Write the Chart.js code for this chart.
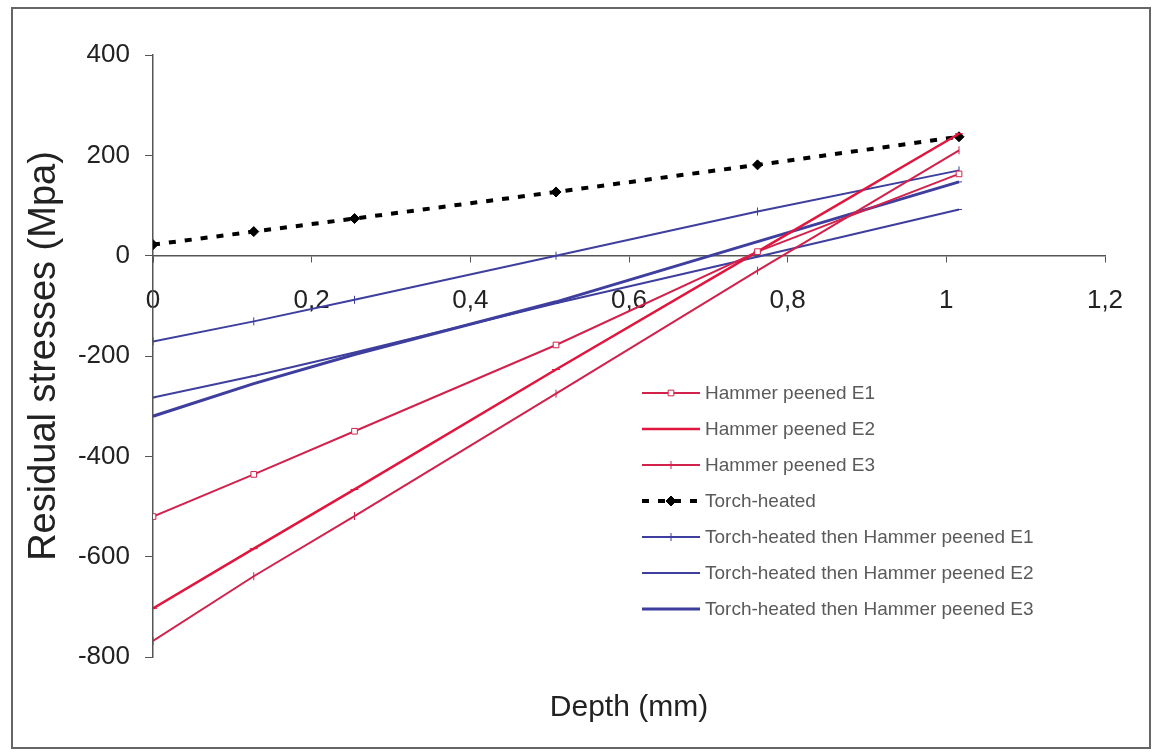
<!DOCTYPE html>
<html>
<head>
<meta charset="utf-8">
<title>Residual stresses vs depth</title>
<script src="https://cdn.jsdelivr.net/npm/chart.js@4.4.1/dist/chart.umd.min.js"></script>
<style>
  html, body { margin: 0; padding: 0; background: #fff; }
  #wrap { width: 1158px; height: 754px; }
</style>
</head>
<body>
<div id="wrap"><canvas id="chart" width="1158" height="754"></canvas></div>
<script>
  // measurement depths (mm)
  const depth = [0, 0.127, 0.254, 0.508, 0.762, 1.016];

  // residual stresses (MPa)
  const hammerE1 = [-520, -436, -350, -178, 8, 163];
  const hammerE2 = [-703, -584, -466, -227, 8, 243];
  const hammerE3 = [-768, -639, -519, -275, -30, 210];
  const torch = [22, 48, 74, 127, 181, 237];
  const torchHammerE1 = [-171, -131, -88, 0, 88, 170];
  const torchHammerE2 = [-283, -240, -193, -95, -2, 92];
  const torchHammerE3 = [-320, -255, -197, -92, 28, 147];

  const xTicks = [0, 0.2, 0.4, 0.6, 0.8, 1, 1.2];
  const yTicks = [-800, -600, -400, -200, 0, 200, 400];

  const FONT = '"Liberation Sans", Arial, sans-serif';
  const RED = '#d2214b';
  const RED2 = '#e0163e';
  const BLUE = '#3e3e9e';

  function pts(vals) {
    return vals.map((v, i) => ({ x: depth[i], y: v }));
  }

  const datasets = [
    { label: 'Hammer peened E1', data: pts(hammerE1), borderColor: RED, borderWidth: 2,
      pointStyle: 'rect', pointRadius: 4, pointBorderColor: RED, pointBackgroundColor: '#fff', pointBorderWidth: 1 },
    { label: 'Hammer peened E2', data: pts(hammerE2), borderColor: RED2, borderWidth: 2.5,
      pointStyle: 'line', pointRadius: 4, pointBorderColor: RED2, pointBorderWidth: 1 },
    { label: 'Hammer peened E3', data: pts(hammerE3), borderColor: RED, borderWidth: 2,
      pointStyle: 'line', pointRadius: 4, pointRotation: 90, pointBorderColor: RED, pointBorderWidth: 1 },
    { label: 'Torch-heated', data: pts(torch), borderColor: '#000', borderWidth: 4, borderDash: [7, 9],
      pointStyle: 'rectRot', pointRadius: 5, pointBorderColor: '#000', pointBackgroundColor: '#000', pointBorderWidth: 1 },
    { label: 'Torch-heated then Hammer peened E1', data: pts(torchHammerE1), borderColor: BLUE, borderWidth: 2,
      pointStyle: 'line', pointRadius: 4, pointRotation: 90, pointBorderColor: BLUE, pointBorderWidth: 1 },
    { label: 'Torch-heated then Hammer peened E2', data: pts(torchHammerE2), borderColor: BLUE, borderWidth: 2,
      pointStyle: 'line', pointRadius: 3, pointBorderColor: BLUE, pointBorderWidth: 1 },
    { label: 'Torch-heated then Hammer peened E3', data: pts(torchHammerE3), borderColor: BLUE, borderWidth: 3,
      pointStyle: 'line', pointRadius: 3, pointBorderColor: BLUE, pointBorderWidth: 1 }
  ];
  datasets.forEach(d => { d.fill = false; d.tension = 0; });

  // white page with a grey frame round the whole chart
  const framePlugin = {
    id: 'frame',
    beforeDraw(chart) {
      const ctx = chart.ctx;
      ctx.save();
      ctx.fillStyle = '#fff';
      ctx.fillRect(0, 0, chart.width, chart.height);
      ctx.strokeStyle = '#666';
      ctx.lineWidth = 2;
      ctx.strokeRect(12, 8, 1138, 740);
      ctx.restore();
    }
  };

  // x axis title sits well below the plot, centred on the plot area
  const xTitle = {
    id: 'xTitle',
    afterDraw(chart) {
      const ctx = chart.ctx, a = chart.chartArea;
      ctx.save();
      ctx.fillStyle = '#222';
      ctx.font = '30px ' + FONT;
      ctx.textAlign = 'center';
      ctx.textBaseline = 'middle';
      ctx.fillText('Depth (mm)', (a.left + a.right) / 2, 708);
      ctx.restore();
    }
  };

  // legend drawn inside the plot, lower right
  const innerLegend = {
    id: 'innerLegend',
    afterDraw(chart) {
      const ctx = chart.ctx;
      const x0 = 642, x1 = 700, top = 393, step = 36;
      ctx.save();
      chart.data.datasets.forEach((ds, i) => {
        const y = top + i * step;
        ctx.strokeStyle = ds.borderColor;
        ctx.lineWidth = ds.borderWidth;
        ctx.setLineDash(ds.borderDash || []);
        ctx.beginPath();
        ctx.moveTo(x0, y);
        ctx.lineTo(x1, y);
        ctx.stroke();
        ctx.setLineDash([]);
        ctx.fillStyle = ds.pointBackgroundColor || '#fff';
        ctx.strokeStyle = ds.pointBorderColor;
        ctx.lineWidth = ds.pointBorderWidth;
        Chart.helpers.drawPoint(ctx, {
          pointStyle: ds.pointStyle, radius: ds.pointRadius,
          rotation: ds.pointRotation || 0, borderWidth: ds.pointBorderWidth
        }, (x0 + x1) / 2, y);
        ctx.fillStyle = '#5a5a5a';
        ctx.font = '19px ' + FONT;
        ctx.textAlign = 'left';
        ctx.textBaseline = 'middle';
        ctx.fillText(ds.label, x1 + 5, y + 1);
      });
      ctx.restore();
    }
  };

  const fmt = v => String(Math.round(v * 10) / 10).replace('.', ',');

  new Chart(document.getElementById('chart'), {
    type: 'line',
    data: { datasets },
    plugins: [framePlugin, xTitle, innerLegend],
    options: {
      responsive: false,
      animation: false,
      layout: { padding: { left: 18, right: 53, top: 55, bottom: 97 } },
      plugins: {
        legend: { display: false },
        tooltip: { enabled: false }
      },
      scales: {
        x: {
          type: 'linear', min: 0, max: 1.2, position: { y: 0 },
          afterBuildTicks: s => { s.ticks = xTicks.map(v => ({ value: v })); },
          afterFit: s => { s.height = 0; },
          grid: { drawOnChartArea: false, tickLength: 6, color: '#555' },
          border: { color: '#555', width: 1.5 },
          ticks: {
            padding: 24, color: '#222', maxRotation: 0, autoSkip: false,
            font: { family: FONT, size: 26 },
            callback: v => fmt(v)
          }
        },
        y: {
          min: -800, max: 400,
          afterBuildTicks: s => { s.ticks = yTicks.map(v => ({ value: v })); },
          afterFit: s => { s.width = 135; },
          grid: { drawOnChartArea: false, tickLength: 8, color: '#555' },
          border: { color: '#555', width: 1.5 },
          ticks: {
            padding: 15, color: '#222',
            font: { family: FONT, size: 26 }
          },
          title: {
            display: true, text: 'Residual stresses (Mpa)', color: '#222',
            font: { family: FONT, size: 38 },
            padding: { top: 4, bottom: 0 }
          }
        }
      }
    }
  });
</script>
</body>
</html>
